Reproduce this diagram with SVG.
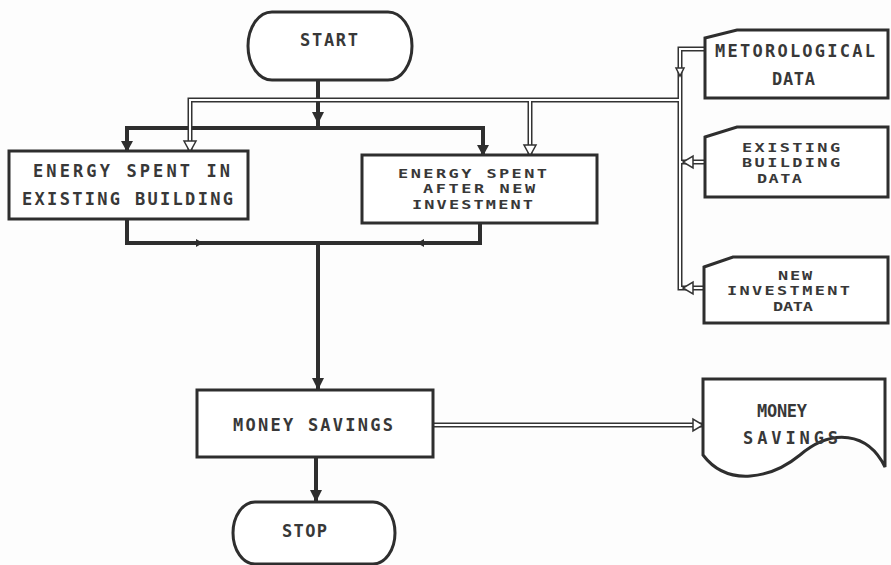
<svg xmlns="http://www.w3.org/2000/svg" width="891" height="565" viewBox="0 0 891 565">
<style>
.shape{fill:#fff;stroke:#2e2e2e;stroke-width:3}
.t{font-family:"DejaVu Sans Mono","Liberation Mono",monospace;font-weight:bold;font-size:17px;fill:#383838}
.ts{font-size:13px}
.thick{fill:none;stroke:#2e2e2e;stroke-width:4}
.dbo{fill:none;stroke:#333;stroke-width:5}
.dbi{fill:none;stroke:#fff;stroke-width:2}
.ah{fill:#2e2e2e}
.oh{fill:#fff;stroke:#333;stroke-width:1.5}
</style>
<rect width="891" height="565" fill="#fdfdfd"/>
<g id="connectors">
<path class="thick" d="M318,80 V128"/>
<path class="thick" d="M127,151 V128 H483 V155"/>
<path class="thick" d="M127,219 V243 H480 V223"/>
<path class="thick" d="M318,243 V390"/>
<path class="thick" d="M316,457 V502"/>
<polygon class="ah" points="312,112 324,112 318,124"/>
<polygon class="ah" points="121,141 133,141 127,152"/>
<polygon class="ah" points="477,145 489,145 483,156"/>
<polygon class="ah" points="312,378 324,378 318,390"/>
<polygon class="ah" points="310,490 322,490 316,502"/>
<polygon class="ah" points="196,239 196,247 203,243"/>
<polygon class="ah" points="424,239 424,247 417,243"/>
<g>
<path class="dbo" d="M190,151 V100 H680"/>
<path class="dbo" d="M530,155 V100"/>
<path class="dbo" d="M705,49 H680 V288 H704"/>
<path class="dbo" d="M705,162 H681"/>
<path class="dbo" d="M433,425 H703"/>
<path class="dbi" d="M190,151 V100 H680"/>
<path class="dbi" d="M530,155 V100"/>
<path class="dbi" d="M705,49 H680 V288 H704"/>
<path class="dbi" d="M705,162 H681"/>
<path class="dbi" d="M433,425 H703"/>
</g>
<polygon class="oh" points="184,141 196,141 190,152"/>
<polygon class="oh" points="524,145 536,145 530,156"/>
<polygon class="oh" points="676,68 684,68 680,76"/>
<polygon class="oh" points="693,156 693,168 683,162"/>
<polygon class="oh" points="693,282 693,294 683,288"/>
<polygon class="oh" points="693,419 693,431 703,425"/>
</g>
<g id="start">
<path class="shape" d="M272,12 H388 A24,34 0 0 1 388,80 H272 A24,34 0 0 1 272,12 Z"/>
<text class="t" x="300" y="46" textLength="58" lengthAdjust="spacing">START</text>
</g>
<g id="energy-existing">
<rect class="shape" x="9" y="151" width="239" height="68"/>
<text class="t"><tspan x="33" y="177" textLength="197" lengthAdjust="spacing">ENERGY SPENT IN</tspan><tspan x="22" y="205" textLength="211" lengthAdjust="spacing">EXISTING BUILDING</tspan></text>
</g>
<g id="energy-new">
<rect class="shape" x="362" y="155" width="235" height="68"/>
<text class="t ts" transform="scale(1.3,1)"><tspan x="306.2" y="178" textLength="114.6" lengthAdjust="spacing">ENERGY SPENT</tspan><tspan x="325.4" y="193.3" textLength="86.2" lengthAdjust="spacing">AFTER NEW</tspan><tspan x="316.9" y="208.6" textLength="93.1" lengthAdjust="spacing">INVESTMENT</tspan></text>
</g>
<g id="meteo-data">
<path class="shape" d="M705,38 L737,30 H888 V98 H705 Z"/>
<text class="t"><tspan x="715" y="57" textLength="160" lengthAdjust="spacing">METOROLOGICAL</tspan><tspan x="772" y="85" textLength="43" lengthAdjust="spacing">DATA</tspan></text>
</g>
<g id="existing-data">
<path class="shape" d="M705,137 L737,127 H888 V197 H705 Z"/>
<text class="t ts" transform="scale(1.3,1)"><tspan x="570.8" y="152" textLength="75.4" lengthAdjust="spacing">EXISTING</tspan><tspan x="570.8" y="167.3" textLength="75.4" lengthAdjust="spacing">BUILDING</tspan><tspan x="582.3" y="182.6" textLength="34.6" lengthAdjust="spacing">DATA</tspan></text>
</g>
<g id="new-data">
<path class="shape" d="M704,267 L733,257 H888 V323 H704 Z"/>
<text class="t ts" transform="scale(1.3,1)"><tspan x="598.5" y="280" textLength="26.2" lengthAdjust="spacing">NEW</tspan><tspan x="559.2" y="295.3" textLength="94.6" lengthAdjust="spacing">INVESTMENT</tspan><tspan x="594.6" y="310.6" textLength="30.8" lengthAdjust="spacing">DATA</tspan></text>
</g>
<g id="money-savings">
<rect class="shape" x="197" y="390" width="236" height="67"/>
<text class="t" x="233" y="431" textLength="160" lengthAdjust="spacing">MONEY SAVINGS</text>
</g>
<g id="money-doc">
<path class="shape" d="M703,379 H885 V467 C868,432 832,428 800,455 C772,478 728,488 703,455 Z"/>
<text class="t"><tspan x="757" y="417" textLength="50" lengthAdjust="spacing">MONEY</tspan><tspan x="743" y="444" textLength="95" lengthAdjust="spacing">SAVINGS</tspan></text>
</g>
<g id="stop">
<path class="shape" d="M255,502 H373 A22,31 0 0 1 373,564 H255 A22,31 0 0 1 255,502 Z"/>
<text class="t" x="282" y="537" textLength="45" lengthAdjust="spacing">STOP</text>
</g>
</svg>
